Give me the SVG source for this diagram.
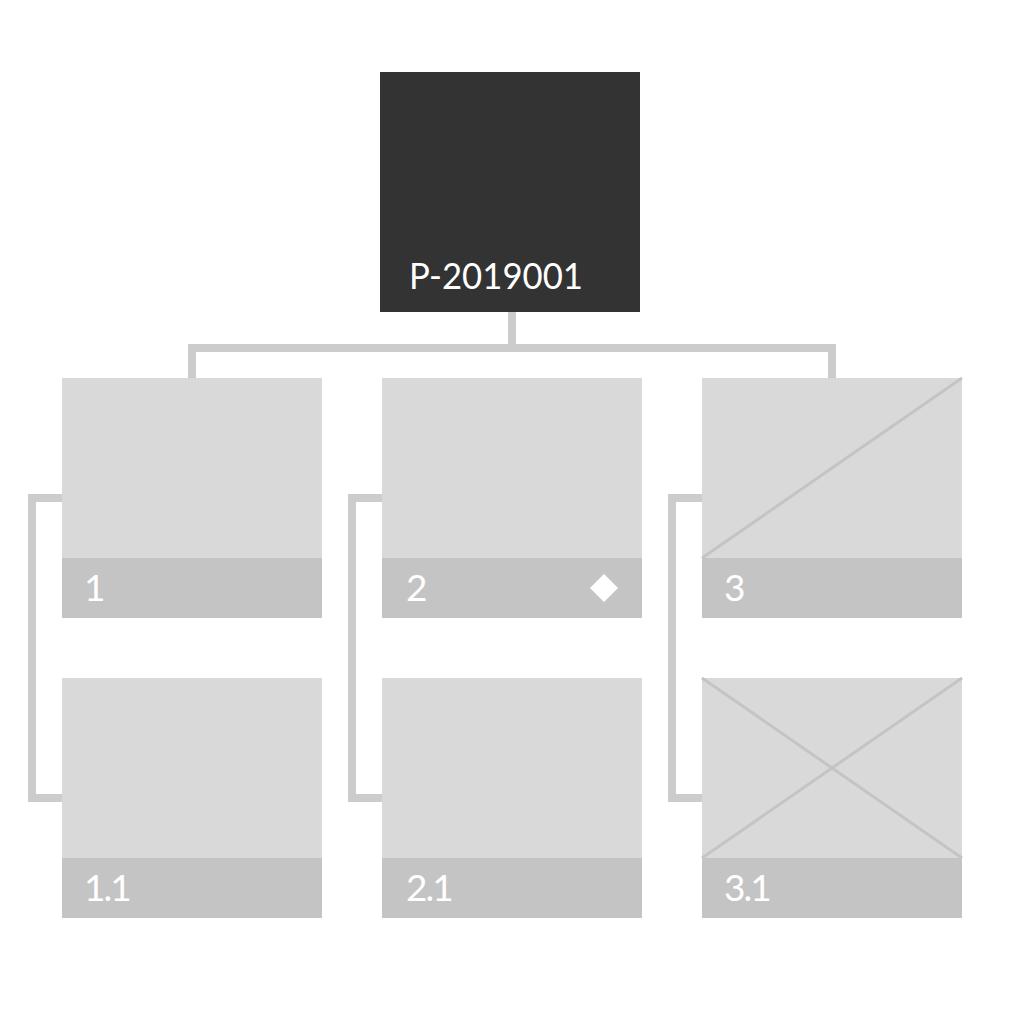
<svg xmlns="http://www.w3.org/2000/svg" width="1024" height="1024" viewBox="0 0 1024 1024">
<style>
.box{fill:#d9d9d9}
.band{fill:#c4c4c4}
.lbl{font-family:Lato,"Noto Sans","Liberation Sans",sans-serif;font-size:37px;fill:#ffffff}
.sub{letter-spacing:-2px}
.conn{fill:none;stroke:#cccccc;stroke-width:8}
.x{stroke:#c4c4c4;stroke-width:3}
</style>
<rect width="1024" height="1024" fill="#ffffff"/>
<g id="connectors">
<path class="conn" d="M512,312 V348 M192,378 V348 H832 V378"/>
<path class="conn" d="M62,498 H32 V798 H62"/>
<path class="conn" d="M382,498 H352 V798 H382"/>
<path class="conn" d="M702,498 H672 V798 H702"/>
</g>
<g id="root">
<rect x="380" y="72" width="260" height="240" fill="#333333"/>
<text class="lbl" x="409" y="289" textLength="174" lengthAdjust="spacingAndGlyphs">P-2019001</text>
</g>
<g id="n1">
<rect class="box" x="62" y="378" width="260" height="240"/>
<rect class="band" x="62" y="558" width="260" height="60"/>
<text class="lbl" x="84" y="601">1</text>
</g>
<g id="n2">
<rect class="box" x="382" y="378" width="260" height="240"/>
<rect class="band" x="382" y="558" width="260" height="60"/>
<text class="lbl" x="406" y="601">2</text>
<path d="M604,574 L618,588 L604,602 L590,588 Z" fill="#ffffff"/>
</g>
<g id="n3">
<rect class="box" x="702" y="378" width="260" height="240"/>
<line class="x" x1="702" y1="558" x2="962" y2="378"/>
<rect class="band" x="702" y="558" width="260" height="60"/>
<text class="lbl" x="724" y="601">3</text>
</g>
<g id="n1_1">
<rect class="box" x="62" y="678" width="260" height="240"/>
<rect class="band" x="62" y="858" width="260" height="60"/>
<text class="lbl sub" x="84" y="901">1.1</text>
</g>
<g id="n2_1">
<rect class="box" x="382" y="678" width="260" height="240"/>
<rect class="band" x="382" y="858" width="260" height="60"/>
<text class="lbl sub" x="406" y="901">2.1</text>
</g>
<g id="n3_1">
<rect class="box" x="702" y="678" width="260" height="240"/>
<line class="x" x1="702" y1="678" x2="962" y2="858"/>
<line class="x" x1="702" y1="858" x2="962" y2="678"/>
<rect class="band" x="702" y="858" width="260" height="60"/>
<text class="lbl sub" x="724" y="901">3.1</text>
</g>
</svg>
